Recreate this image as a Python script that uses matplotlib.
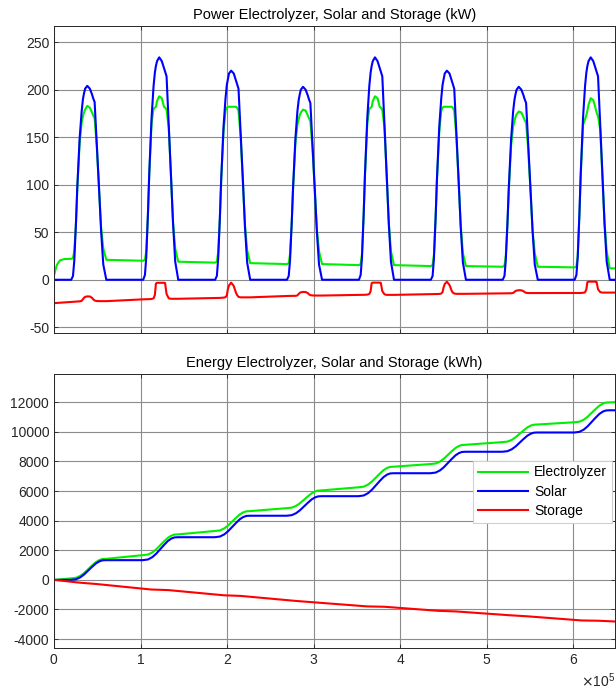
import matplotlib.pyplot as plt
import numpy as np
from matplotlib.ticker import ScalarFormatter

plt.rcParams['font.family'] = ['Liberation Sans', 'DejaVu Sans']
plt.rcParams['axes.unicode_minus'] = False

# time is in units of 1e5 s
peak_t = [0.394, 1.225, 2.056, 2.886, 3.717, 4.548, 5.378, 6.209]
t_end = 6.48

# sample points around each midday peak (1e5 s)
p_off = [-0.195, -0.175, -0.16, -0.14, -0.125, -0.098, -0.075, -0.06, -0.048, -0.035,
         -0.01, 0.02, 0.045, 0.058, 0.075, 0.10, 0.125, 0.15, 0.175, 0.21]

# power in kW at p_off, one row per day
solar_kw = [
    [0, 4, 20, 61, 98, 149, 177, 190, 196, 201, 204, 201, 195, 191, 187, 143, 98, 51, 16, 0],
    [0, 5, 23, 70, 112, 171, 204, 218, 225, 230, 234, 230, 223, 219, 214, 164, 112, 59, 19, 0],
    [0, 4, 22, 66, 106, 161, 191, 205, 211, 217, 220, 217, 210, 206, 201, 154, 106, 55, 18, 0],
    [0, 4, 20, 61, 97, 148, 177, 189, 195, 200, 203, 200, 194, 190, 186, 142, 97, 51, 16, 0],
    [0, 5, 23, 70, 112, 171, 204, 218, 225, 230, 234, 230, 223, 219, 214, 164, 112, 59, 19, 0],
    [0, 4, 22, 66, 106, 161, 191, 205, 211, 217, 220, 217, 210, 206, 201, 154, 106, 55, 18, 0],
    [0, 4, 20, 61, 97, 148, 177, 189, 195, 200, 203, 200, 194, 190, 186, 142, 97, 51, 16, 0],
    [0, 5, 23, 70, 112, 171, 204, 218, 225, 230, 234, 230, 223, 219, 214, 164, 112, 59, 19, 0],
]
elec_kw = [
    [22, 23, 30, 60, 96, 144, 165, 172, 176, 179, 183, 181, 176, 173, 170, 140, 97, 55, 33, 21],
    [20, 21, 30, 68, 110, 165, 180, 181, 182, 188, 193, 191, 182, 181, 179, 160, 110, 60, 33, 19],
    [18, 19, 29, 65, 104, 156, 178, 181, 182, 182, 182, 182, 182, 181, 178, 150, 104, 57, 31, 17.5],
    [16.5, 17.5, 27, 60, 95, 143, 163, 169, 173, 176, 179, 178, 173, 170, 167, 138, 96, 53, 30, 16.5],
    [15.4, 16.5, 27, 68, 110, 165, 180, 181, 182, 188, 193, 191, 182, 181, 179, 160, 110, 60, 30, 15.4],
    [14.4, 15.5, 26, 65, 104, 156, 178, 181, 182, 182, 182, 182, 182, 181, 178, 150, 104, 57, 28, 14.4],
    [13.7, 14.7, 25, 59, 94, 141, 161, 167, 171, 174, 177, 176, 171, 168, 165, 136, 95, 52, 28, 13.7],
    [13, 14, 25, 68, 110, 163, 169, 173, 178, 184, 191, 189, 181, 176, 172, 158, 110, 60, 30, 12],
]
stor_kw = [
    [-23.2, -23.1, -23.0, -22.9, -22.8, -22.7, -22.2, -20.5, -19, -18, -17.5, -17.6, -19, -20.5, -21.8, -22.4, -22.5, -22.5, -22.5, -22.5],
    [-20.5, -20.5, -20.5, -20.4, -20.4, -20.2, -19.5, -16, -4, -3.2, -3.2, -3.2, -3.2, -3.5, -15, -19.5, -20, -20, -20, -20],
    [-19.3, -19.2, -19.2, -19.1, -19, -18.8, -18.3, -16.5, -10, -6, -3, -6.5, -13.5, -16, -18, -18.5, -18.5, -18.5, -18.5, -18.5],
    [-17, -17, -17, -17, -17, -16.9, -16.5, -15, -13.8, -13.2, -12.8, -12.9, -14, -15.2, -16.2, -16.5, -16.6, -16.6, -16.6, -16.6],
    [-15.9, -15.9, -15.9, -15.8, -15.8, -15.6, -15, -12, -3.5, -3, -3, -3, -3, -3.3, -12, -15.3, -15.9, -15.9, -15.9, -15.9],
    [-15.2, -15.2, -15.1, -15.1, -15, -14.9, -14.5, -13, -8, -4.5, -2, -5.5, -11.5, -13.5, -14.5, -14.8, -14.8, -14.8, -14.8, -14.8],
    [-14.3, -14.3, -14.3, -14.3, -14.3, -14.2, -13.9, -12.8, -11.9, -11.4, -11, -11.1, -12, -13, -13.7, -14, -14, -14, -14, -14],
    [-14, -14, -14, -13.9, -13.9, -13.7, -13.2, -10, -2.5, -2, -2, -2, -2, -2.3, -10, -13, -13.5, -13.5, -13.5, -13.5],
]

# start of the run and last sample
t_start = [0.0, 0.015, 0.035, 0.07, 0.12]
solar_kw_start = [0, 0, 0, 0, 0]
elec_kw_start = [4.5, 10, 16, 20.5, 21.8]
stor_kw_start = [-24.6, -24.5, -24.4, -24.2, -23.8]
solar_kw_end = 0
elec_kw_end = 12
stor_kw_end = -13.5

# energy in kWh, sampled at e_off around each peak
e_off = [-0.2, -0.14, -0.09, -0.045, 0, 0.045, 0.09, 0.13, 0.165, 0.205]
solar_kwh = [
    [0, 40, 173, 372, 625, 878, 1111, 1250, 1317, 1330],
    [1330, 1377, 1532, 1764, 2059, 2353, 2624, 2787, 2865, 2880],
    [2880, 2924, 3069, 3286, 3562, 3837, 4091, 4243, 4316, 4330],
    [4330, 4370, 4502, 4700, 4950, 5201, 5432, 5571, 5637, 5650],
    [5650, 5697, 5852, 6084, 6379, 6673, 6944, 7107, 7185, 7200],
    [7200, 7244, 7389, 7606, 7882, 8157, 8411, 8563, 8636, 8650],
    [8650, 8689, 8819, 9014, 9261, 9508, 9736, 9872, 9937, 9950],
    [9950, 9995, 10145, 10370, 10655, 10940, 11203, 11360, 11435, 11450],
]
elec_kwh = [
    [100, 140, 272, 470, 720, 971, 1202, 1341, 1407, 1420],
    [1670, 1712, 1852, 2062, 2328, 2594, 2839, 2986, 3056, 3070],
    [3300, 3340, 3474, 3675, 3930, 4184, 4419, 4560, 4627, 4640],
    [4840, 4876, 4996, 5176, 5404, 5632, 5842, 5968, 6028, 6040],
    [6250, 6292, 6431, 6639, 6903, 7167, 7411, 7557, 7626, 7640],
    [7820, 7859, 7989, 8184, 8431, 8678, 8906, 9042, 9107, 9120],
    [9300, 9336, 9455, 9633, 9859, 10085, 10294, 10419, 10478, 10490],
    [10640, 10680, 10814, 11015, 11270, 11524, 11759, 11900, 11967, 11980],
]
e_start_t = [0.0, 0.1]
solar_kwh_start = [0, 0]
elec_kwh_start = [0, 48]
solar_kwh_end = 11450
elec_kwh_end = 12000

stor_t = [0, 0.29, 0.49, 1.12, 1.32, 1.96, 2.16, 2.79, 2.99, 3.615, 3.815,
          4.44, 4.64, 5.267, 5.467, 6.095, 6.295, 6.48]
stor_kwh = [0, -185, -280, -650, -690, -1040, -1085, -1420, -1510, -1790, -1815,
            -2090, -2130, -2390, -2460, -2740, -2760, -2810]

# assemble time vectors (seconds)
pc = np.array(peak_t)[:, None]
tp = np.concatenate([t_start, (pc + np.array(p_off)).ravel(), [t_end]]) * 1e5
solar_p = np.concatenate([solar_kw_start, np.ravel(solar_kw), [solar_kw_end]])
elec_p = np.concatenate([elec_kw_start, np.ravel(elec_kw), [elec_kw_end]])
stor_p = np.concatenate([stor_kw_start, np.ravel(stor_kw), [stor_kw_end]])

te = np.concatenate([e_start_t, (pc + np.array(e_off)).ravel(), [t_end]]) * 1e5
solar_e = np.concatenate([solar_kwh_start, np.ravel(solar_kwh), [solar_kwh_end]])
elec_e = np.concatenate([elec_kwh_start, np.ravel(elec_kwh), [elec_kwh_end]])
ts = np.array(stor_t) * 1e5

green = '#00ee00'
blue = '#0000ff'
red = '#ff0000'
lw = 1.5

fig = plt.figure(figsize=(6.16, 6.89), dpi=100)
ax1 = fig.add_axes([0.0877, 0.5167, 0.9107, 0.4456])
ax2 = fig.add_axes([0.0877, 0.0595, 0.9107, 0.3977])

ax1.plot(tp, elec_p, color=green, lw=lw)
ax1.plot(tp, solar_p, color=blue, lw=lw)
ax1.plot(tp, stor_p, color=red, lw=lw)
ax1.set_ylim(-56, 267)
ax1.set_yticks(np.arange(-50, 251, 50))
ax1.set_title('Power Electrolyzer, Solar and Storage (kW)', fontsize=10.5, pad=5)

ax2.plot(te, elec_e, color=green, lw=lw, label='Electrolyzer')
ax2.plot(te, solar_e, color=blue, lw=lw, label='Solar')
ax2.plot(ts, stor_kwh, color=red, lw=lw, label='Storage')
ax2.set_ylim(-4600, 13900)
ax2.set_yticks(np.arange(-4000, 12001, 2000))
ax2.set_title('Energy Electrolyzer, Solar and Storage (kWh)', fontsize=10.5, pad=5)
leg = ax2.legend(loc='upper right', bbox_to_anchor=(0.995, 0.684), borderaxespad=0,
                 fancybox=False, framealpha=1, edgecolor='#d0d0d0', fontsize=10,
                 handlelength=3.6, labelspacing=0.38, borderpad=0.35, handletextpad=0.45)
leg.get_frame().set_linewidth(0.8)

for ax in (ax1, ax2):
    ax.set_xlim(0, t_end * 1e5)
    ax.set_xticks(np.arange(0, 6.01e5, 1e5))
    ax.grid(True, color='#8c8c8c', lw=0.8)
    ax.set_axisbelow(True)
    ax.tick_params(direction='in', length=3, top=True, right=True, labelsize=10,
                   colors='#262626', width=0.6)
    for s in ax.spines.values():
        s.set_color('#262626')
        s.set_linewidth(0.7)

ax1.set_xticklabels([])
fmt = ScalarFormatter(useMathText=True)
fmt.set_powerlimits((0, 0))
ax2.xaxis.set_major_formatter(fmt)
ax2.xaxis.get_offset_text().set_fontsize(10)
ax2.xaxis.get_offset_text().set_color('#262626')

fig.savefig('out.png', dpi=100)
